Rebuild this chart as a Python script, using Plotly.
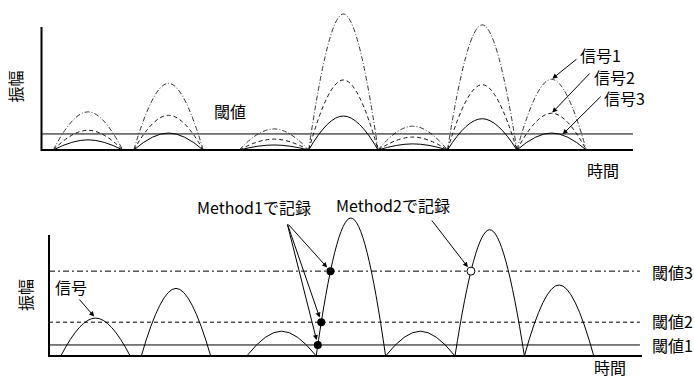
import plotly.graph_objects as go

W, H = 694, 378

# ---------------- data ----------------
arch_starts = [0.17, 1.33, 2.85, 3.85, 4.85, 5.85, 6.85]   # time at which each pulse starts
arch_width = 1.0                                            # pulse duration
sig1 = [2.8, 4.9, 1.55, 10.0, 1.75, 9.2, 5.2]               # 信号1 peak amplitudes
sig2 = [1.45, 2.55, 0.8, 5.15, 0.95, 4.8, 2.7]              # 信号2
sig3 = [0.75, 1.25, 0.37, 2.5, 0.45, 2.3, 1.25]             # 信号3
threshold_top = 1.18
top_time_end = 8.523
top_amp_axis_end = 9.04

signal_b = [2.75, 4.9, 1.8, 10.0, 1.8, 9.15, 5.15]          # 信号 (lower chart)
thresholds_b = [0.8, 2.45, 6.15]                            # 閾値1, 閾値2, 閾値3
threshold_labels = ["閾値1", "閾値2", "閾値3"]
bot_time_end = 8.545
bot_amp_axis_end = 8.77
method1_arch = 3
method2_arch = 5

SMOOTH = 1.3
FONT = "Noto Sans CJK JP"

# ---------------- panel geometry (pixel mapping) ----------------
TOP = dict(ox=41.5, oy=150, ux=69.4, uy=13.6, xr=(-0.1, 8.6), yr=(-0.3, 10.3))
BOT = dict(ox=49, oy=356, ux=69.4, uy=13.8, xr=(-0.1, 8.6), yr=(-0.3, 10.5))


def domains(p):
    ox, oy = p["ox"], p["oy"]
    xd = [(ox + p["xr"][0] * p["ux"]) / W, (ox + p["xr"][1] * p["ux"]) / W]
    yd = [(H - oy + p["yr"][0] * p["uy"]) / H, (H - oy + p["yr"][1] * p["uy"]) / H]
    return [max(0, min(1, v)) for v in xd], [max(0, min(1, v)) for v in yd]


def arches(starts, amps):
    xs, ys = [], []
    for s, a in zip(starts, amps):
        xs += [s, s + arch_width / 2, s + arch_width, None]
        ys += [0, a, 0, None]
    return xs, ys


def rising_cross(s, h, T):
    # left half of the plotly spline (quadratic bezier) of one pulse
    px = s + arch_width / 2
    cx = px - (arch_width / 2) * SMOOTH / 3
    t = 1 - (1 - T / h) ** 0.5
    return (1 - t) ** 2 * s + 2 * t * (1 - t) * cx + t ** 2 * px


fig = go.Figure()

# ---- top panel ----
for vals, dash, col in [(sig1, "5px,2px,1px,2px", "#333"), (sig2, "4px,3px", "#111"), (sig3, "solid", "black")]:
    x, y = arches(arch_starts, vals)
    fig.add_trace(go.Scatter(x=x, y=y, mode="lines", xaxis="x", yaxis="y",
                             line=dict(shape="spline", smoothing=SMOOTH, color=col, width=1, dash=dash),
                             hoverinfo="skip", showlegend=False))
fig.add_trace(go.Scatter(x=[0, top_time_end], y=[threshold_top, threshold_top], mode="lines",
                         xaxis="x", yaxis="y", line=dict(color="black", width=1),
                         hoverinfo="skip", showlegend=False))

# ---- bottom panel ----
x, y = arches(arch_starts, signal_b)
fig.add_trace(go.Scatter(x=x, y=y, mode="lines", xaxis="x2", yaxis="y2",
                         line=dict(shape="spline", smoothing=SMOOTH, color="black", width=1),
                         hoverinfo="skip", showlegend=False))
for T, dash in zip(thresholds_b, ["solid", "4px,3px", "6px,3px,2px,3px"]):
    fig.add_trace(go.Scatter(x=[0, bot_time_end - 0.03], y=[T, T], mode="lines",
                             xaxis="x2", yaxis="y2", line=dict(color="black", width=1, dash=dash),
                             hoverinfo="skip", showlegend=False))

m1x = [rising_cross(arch_starts[method1_arch], signal_b[method1_arch], T) for T in thresholds_b]
m1y = list(thresholds_b)
m2x = [rising_cross(arch_starts[method2_arch], signal_b[method2_arch], thresholds_b[2])]
m2y = [thresholds_b[2]]
fig.add_trace(go.Scatter(x=m1x, y=m1y, mode="markers", xaxis="x2", yaxis="y2",
                         marker=dict(size=8, color="black"), hoverinfo="skip", showlegend=False))
fig.add_trace(go.Scatter(x=m2x, y=m2y, mode="markers", xaxis="x2", yaxis="y2",
                         marker=dict(size=8, color="white", line=dict(color="black", width=1)),
                         hoverinfo="skip", showlegend=False))

# ---- axes lines ----
shapes = [
    dict(type="line", xref="x", yref="y", x0=0, x1=top_time_end, y0=0, y1=0, line=dict(color="black", width=2)),
    dict(type="line", xref="x", yref="y", x0=0, x1=0, y0=-0.07, y1=top_amp_axis_end, line=dict(color="black", width=2)),
    dict(type="line", xref="x2", yref="y2", x0=0, x1=bot_time_end, y0=0, y1=0, line=dict(color="black", width=2)),
    dict(type="line", xref="x2", yref="y2", x0=0, x1=0, y0=-0.07, y1=bot_amp_axis_end, line=dict(color="black", width=2)),
]

# ---- annotations (positions given in pixels) ----
def txt(s, px, py, xanchor="center", angle=0, size=16):
    return dict(text=s, x=px / W, y=1 - py / H, xref="paper", yref="paper", showarrow=False,
                xanchor=xanchor, yanchor="middle", textangle=angle,
                font=dict(family=FONT, size=size, color="black"))


def arrow(xr, yr, hx, hy, tx, ty, standoff=1):
    return dict(text="", x=hx, y=hy, xref=xr, yref=yr, ax=tx, ay=ty, axref=xr, ayref=yr,
                showarrow=True, arrowhead=2, arrowsize=1, arrowwidth=1, arrowcolor="black",
                standoff=standoff)


annots = [
    txt("振幅", 14.5, 87, angle=-90),
    txt("閾値", 230, 111),
    txt("信号1", 578, 55, xanchor="left"),
    txt("信号2", 592, 77, xanchor="left"),
    txt("信号3", 602, 98, xanchor="left"),
    txt("時間", 603, 170),
    txt("Method1で記録", 254, 207),
    txt("Method2で記録", 393, 205),
    txt("信号", 71, 287),
    txt("振幅", 25, 295, angle=-90),
    txt(threshold_labels[2], 650, 272, xanchor="left"),
    txt(threshold_labels[1], 650, 321, xanchor="left"),
    txt(threshold_labels[0], 650, 345, xanchor="left"),
    txt("時間", 610, 367),
    arrow("x", "y", arch_starts[6] + 0.5, sig1[6], 7.73, 6.76),
    arrow("x", "y", arch_starts[6] + 0.5, sig2[6], 7.92, 5.74),
    arrow("x", "y", 7.5, 1.1, 8.08, 4.04),
    arrow("x2", "y2", arch_starts[0] + 0.5, signal_b[0], 0.42, 4.2, standoff=2),
]
for xx, yy in zip(m1x, m1y):
    annots.append(arrow("x2", "y2", xx, yy, 3.43, 9.64, standoff=5))
annots.append(arrow("x2", "y2", m2x[0], m2y[0], 5.50, 9.93, standoff=5))

txd, tyd = domains(TOP)
bxd, byd = domains(BOT)
ax_common = dict(showgrid=False, zeroline=False, showticklabels=False, ticks="", showline=False, fixedrange=True)

fig.update_layout(
    width=W, height=H, margin=dict(l=0, r=0, t=0, b=0),
    paper_bgcolor="white", plot_bgcolor="white",
    xaxis=dict(domain=txd, range=list(TOP["xr"]), anchor="y", **ax_common),
    yaxis=dict(domain=tyd, range=list(TOP["yr"]), anchor="x", **ax_common),
    xaxis2=dict(domain=bxd, range=list(BOT["xr"]), anchor="y2", **ax_common),
    yaxis2=dict(domain=byd, range=list(BOT["yr"]), anchor="x2", **ax_common),
    shapes=shapes, annotations=annots, showlegend=False,
)

fig.write_html("out.html", config={"displayModeBar": False},
               post_script="document.body.style.margin='0px';document.body.style.overflow='hidden';")
